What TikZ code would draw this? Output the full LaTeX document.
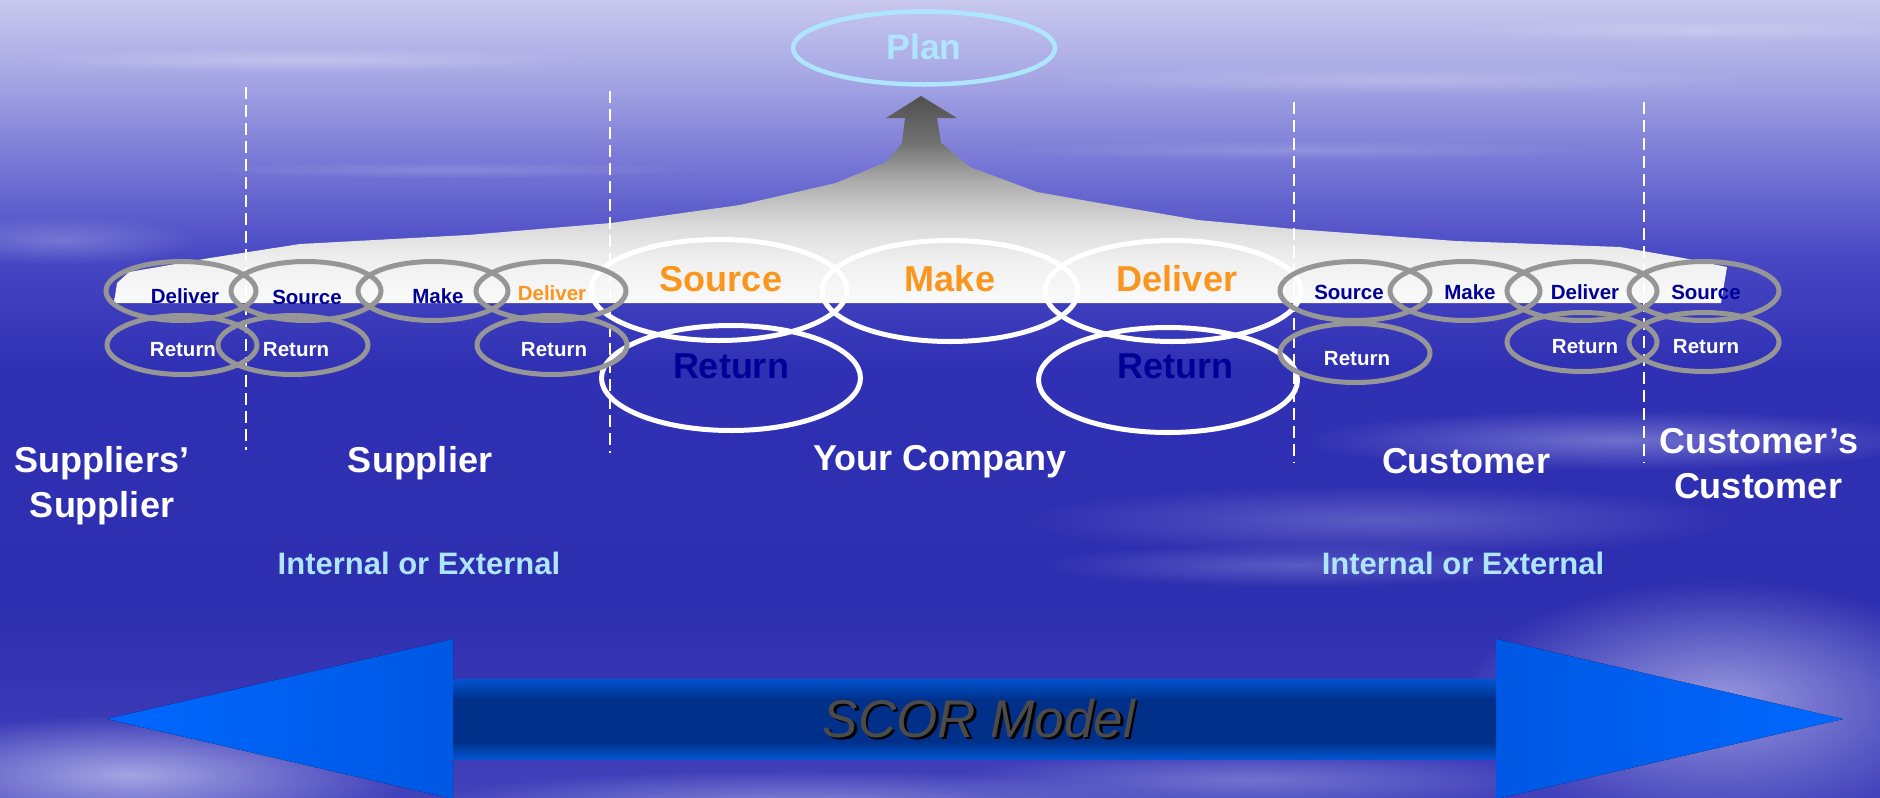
\documentclass[tikz,border=0pt]{standalone}
\usepackage{fontspec}
\setmainfont{Liberation Sans}
\usetikzlibrary{shapes.geometric,fadings}
\definecolor{bg0}{RGB}{200,200,238}
\definecolor{bg1}{RGB}{165,165,228}
\definecolor{bg2}{RGB}{112,112,212}
\definecolor{bg3}{RGB}{72,72,196}
\definecolor{bg4}{RGB}{48,48,180}
\definecolor{bg5}{RGB}{46,46,176}
\definecolor{bg6}{RGB}{66,66,188}
\pgfdeclareverticalshading{bgshade}{100bp}{color(0bp)=(bg6); color(25bp)=(bg6); color(37bp)=(bg5); color(52bp)=(bg4); color(59bp)=(bg3); color(64bp)=(bg2); color(70bp)=(bg1); color(75bp)=(bg0); color(100bp)=(bg0)}
\definecolor{g0}{RGB}{80,80,80}
\definecolor{g1}{RGB}{112,112,112}
\definecolor{g2}{RGB}{175,175,175}
\definecolor{g3}{RGB}{218,218,218}
\definecolor{g4}{RGB}{240,240,240}
\definecolor{g5}{RGB}{250,250,250}
\pgfdeclareverticalshading{peakshade}{100bp}{color(0bp)=(g5); color(25bp)=(g5); color(35bp)=(g4); color(44bp)=(g3); color(54bp)=(g2); color(64bp)=(g1); color(75bp)=(g0); color(100bp)=(g0)}
\definecolor{s0}{RGB}{0,48,138}
\definecolor{s1}{RGB}{0,84,208}
\pgfdeclareverticalshading{shaftshade}{100bp}{color(0bp)=(s1); color(25bp)=(s1); color(36bp)=(s0); color(62bp)=(s0); color(75bp)=(s1); color(100bp)=(s1)}
\definecolor{headA}{RGB}{0,104,255}
\definecolor{headB}{RGB}{0,88,228}
\definecolor{navy}{RGB}{0,0,150}
\definecolor{orng}{RGB}{250,150,30}
\definecolor{ltcyan}{RGB}{175,230,255}
\definecolor{ringgray}{RGB}{150,150,150}
\definecolor{cloudc}{RGB}{175,175,232}
\definecolor{scortext}{RGB}{75,75,75}
\tikzfading[name=fuzzy, inner color=transparent!0, outer color=transparent!100]
\begin{document}
\begin{tikzpicture}[x=1pt,y=-1pt,
  smallring/.style={ellipse, draw=ringgray, line width=5pt, minimum width=150pt, minimum height=59pt, inner sep=0pt},
  bigring/.style={ellipse, draw=white, line width=5pt, minimum width=256pt, minimum height=101pt, inner sep=0pt},
  retring/.style={bigring, minimum width=259pt, minimum height=105pt},
  smalllbl/.style={anchor=base, inner sep=0pt, font=\bfseries\fontsize{20.5}{24}\selectfont},
  biglbl/.style={anchor=base, inner sep=0pt, font=\bfseries\fontsize{36}{42}\selectfont},
  regionlbl/.style={anchor=base, inner sep=0pt, text=white, font=\bfseries\fontsize{36}{42}\selectfont},
  ielbl/.style={anchor=base, inner sep=0pt, text=ltcyan, font=\bfseries\fontsize{31}{36}\selectfont},
  dashln/.style={white, line width=2.5pt, dash pattern=on 12pt off 6pt},
  cloud/.style={cloudc, path fading=fuzzy}]
\useasboundingbox (0,0) rectangle (1880,798);
% background
\shade[shading=bgshade] (0,0) rectangle (1880,798);
% clouds and streaks
\fill[cloud, opacity=0.9] (130,775) ellipse (280 and 60);
\fill[cloud, opacity=0.6] (800,805) ellipse (380 and 35);
\fill[cloud, opacity=0.8] (1720,700) ellipse (260 and 120);
\fill[cloud, opacity=0.5] (1620,440) ellipse (320 and 30);
\fill[cloud, opacity=0.35] (1380,520) ellipse (360 and 35);
\fill[cloud, opacity=0.35] (1300,565) ellipse (260 and 22);
\fill[cloud, opacity=0.45] (1250,780) ellipse (300 and 30);
\fill[cloud, opacity=0.4] (60,240) ellipse (140 and 25);
\fill[white, path fading=fuzzy, opacity=0.25] (300,60) ellipse (300 and 12);
\fill[white, path fading=fuzzy, opacity=0.2] (1400,80) ellipse (350 and 14);
\fill[white, path fading=fuzzy, opacity=0.15] (1300,150) ellipse (300 and 10);
\fill[white, path fading=fuzzy, opacity=0.15] (450,170) ellipse (260 and 9);
\fill[white, path fading=fuzzy, opacity=0.2] (1700,30) ellipse (250 and 12);
% the peak leading to Plan
\shade[shading=peakshade] (114,303) -- (117,283) -- (129,272) -- (210,258) -- (300,244) -- (468,235) -- (611,223) -- (740,205) -- (836,183) -- (886,162) -- (902,143) -- (905,118) -- (886,118) -- (921,96) -- (957,118) -- (937,118) -- (941,143) -- (970,167) -- (1037,192) -- (1099,203) -- (1198,220) -- (1294,229) -- (1456,241) -- (1620,247) -- (1683,258) -- (1727,267) -- (1721,303) -- cycle;
% dashed separators
\coordinate (d1t) at (246,87);  \coordinate (d1b) at (246,450);
\coordinate (d2t) at (610,91);  \coordinate (d2b) at (610,453);
\coordinate (d3t) at (1294,102); \coordinate (d3b) at (1294,463);
\coordinate (d4t) at (1644,102); \coordinate (d4b) at (1644,463);
\draw[dashln] (d1t) -- (d1b);
\draw[dashln] (d2t) -- (d2b);
\draw[dashln] (d3t) -- (d3b);
\draw[dashln] (d4t) -- (d4b);
% Your Company
\node[bigring] (ySrc) at (719,290) {};
\node[bigring] (yMake) at (950,291) {};
\node[bigring] (yDel) at (1173,291) {};
\node[retring] (yRet1) at (731,378) {};
\node[retring] (yRet2) at (1168,380) {};
\node[biglbl, text=orng] (tySrc) at (721,291) {Source};
\node[biglbl, text=orng] (tyMake) at (950,291) {Make};
\node[biglbl, text=orng] (tyDel) at (1177,291) {Deliver};
\node[biglbl, text=navy] (tyRet1) at (731,378) {Return};
\node[biglbl, text=navy] (tyRet2) at (1175,378) {Return};
% Supplier side
\node[smallring] (sDel1) at (181,291) {};
\node[smalllbl, text=navy] (tsDel1) at (185,303) {Deliver};
\node[smallring] (sSrc) at (306,291) {};
\node[smalllbl, text=navy] (tsSrc) at (307,304) {Source};
\node[smallring] (sMake) at (433,291) {};
\node[smalllbl, text=navy] (tsMake) at (438,303) {Make};
\node[smallring] (sDel2) at (551,291) {};
\node[smalllbl, text=orng] (tsDel2) at (552,300) {Deliver};
\node[smallring] (sRet1) at (182,345) {};
\node[smalllbl, text=white] (tsRet1) at (183,356) {Return};
\node[smallring] (sRet2) at (293,345) {};
\node[smalllbl, text=white] (tsRet2) at (296,356) {Return};
\node[smallring] (sRet3) at (552,345) {};
\node[smalllbl, text=white] (tsRet3) at (554,356) {Return};
% Customer side
\node[smallring] (cSrc1) at (1355,291) {};
\node[smalllbl, text=navy] (tcSrc1) at (1349,299) {Source};
\node[smallring] (cMake) at (1465,291) {};
\node[smalllbl, text=navy] (tcMake) at (1470,299) {Make};
\node[smallring] (cDel) at (1582,291) {};
\node[smalllbl, text=navy] (tcDel) at (1585,299) {Deliver};
\node[smallring] (cSrc2) at (1704,291) {};
\node[smalllbl, text=navy] (tcSrc2) at (1706,299) {Source};
\node[smallring] (cRet1) at (1355,353) {};
\node[smalllbl, text=white] (tcRet1) at (1357,365) {Return};
\node[smallring] (cRet2) at (1582,342) {};
\node[smalllbl, text=white] (tcRet2) at (1585,353) {Return};
\node[smallring] (cRet3) at (1704,342) {};
\node[smalllbl, text=white] (tcRet3) at (1706,353) {Return};
% Plan
\node[ellipse, draw=ltcyan, line width=4.5pt, minimum width=262pt, minimum height=73pt, inner sep=0pt] (plan) at (924,48) {};
\node[anchor=base, inner sep=0pt, text=ltcyan, font=\bfseries\fontsize{35.5}{42}\selectfont] (tplan) at (924,59) {Plan};
% region labels
\node[regionlbl] (lSS1) at (102,472) {Suppliers’};
\node[regionlbl] (lSS2) at (102,517) {Supplier};
\node[regionlbl] (lS) at (420,472) {Supplier};
\node[regionlbl] (lY) at (940,470) {Your Company};
\node[regionlbl] (lC) at (1466,473) {Customer};
\node[regionlbl] (lCC1) at (1759,453) {Customer’s};
\node[regionlbl] (lCC2) at (1758,498) {Customer};
\node[ielbl] (ie1) at (419,574) {Internal or External};
\node[ielbl] (ie2) at (1463,574) {Internal or External};
% SCOR double arrow
\fill[left color=headA, right color=headB] (107,719) -- (453,639) -- (453,799) -- cycle;
\fill[left color=headB, right color=headA] (1843,719) -- (1496,639) -- (1496,799) -- cycle;
\shade[shading=shaftshade] (453,679) rectangle (1496,759);
\node[anchor=base, inner sep=0pt, text=black, font=\itshape\fontsize{53}{60}\selectfont] (scorsh) at (981.5,739.5) {SCOR Model};
\node[anchor=base, inner sep=0pt, text=scortext, font=\itshape\fontsize{53}{60}\selectfont] (scor) at (979,737) {SCOR Model};
\end{tikzpicture}
\end{document}
